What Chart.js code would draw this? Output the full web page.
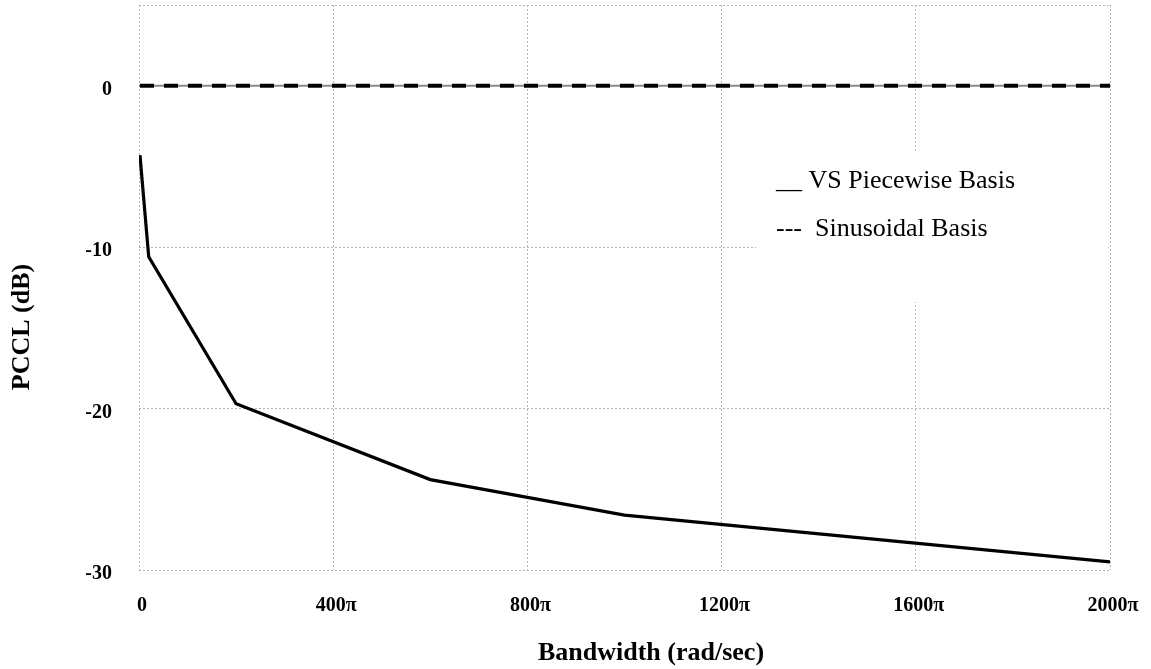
<!DOCTYPE html>
<html>
<head>
<meta charset="utf-8">
<script src="https://cdn.jsdelivr.net/npm/chart.js@4/dist/chart.umd.min.js"></script>
<style>
  html, body { margin: 0; padding: 0; background: #ffffff; }
  canvas { display: block; }
</style>
</head>
<body>
<canvas id="pccl" width="1151" height="669"></canvas>
<script>
// Bandwidth values, in multiples of π rad/sec
const bandwidth = [2, 20, 200, 600, 1000, 2000];
// PCCL (dB) for each basis
const vsPiecewise = [-4.3, -10.6, -19.7, -24.4, -26.6, -29.5];
const sinusoidal = [0, 0, 0, 0, 0, 0];
// Axis ticks
const xTicks = [0, 400, 800, 1200, 1600, 2000];
const yTicks = [-30, -20, -10, 0];
// Texts
const legendLabels = ['__ VS Piecewise Basis', '---  Sinusoidal Basis'];
const xTitle = 'Bandwidth (rad/sec)';
const yTitle = 'PCCL (dB)';

const SERIF = "'Liberation Serif', 'Times New Roman', Times, serif";
const GRID = '#b4b4b4';

const toPoints = (xs, ys) => xs.map((x, i) => ({ x: x, y: ys[i] }));

// Solid grey zero line, white legend panel and axis titles
const decorations = {
  id: 'decorations',
  beforeDatasetsDraw(chart) {
    const { ctx, chartArea, scales } = chart;
    const y0 = scales.y.getPixelForValue(0);
    ctx.save();
    ctx.strokeStyle = '#8a8a8a';
    ctx.lineWidth = 2;
    ctx.beginPath();
    ctx.moveTo(chartArea.left, y0);
    ctx.lineTo(chartArea.right, y0);
    ctx.stroke();

    // legend panel
    ctx.fillStyle = '#ffffff';
    ctx.fillRect(756, 152, chartArea.right - 758, 150);
    ctx.fillStyle = '#000000';
    ctx.font = '26px ' + SERIF;
    ctx.textAlign = 'left';
    ctx.textBaseline = 'alphabetic';
    ctx.fillText(legendLabels[0], 776, 188);
    ctx.fillText(legendLabels[1], 776, 236);
    ctx.restore();
  },
  afterDraw(chart) {
    const { ctx } = chart;
    ctx.save();
    ctx.fillStyle = '#000000';
    ctx.font = 'bold 26px ' + SERIF;
    ctx.textAlign = 'center';
    ctx.textBaseline = 'middle';
    ctx.fillText(xTitle, 651, 653);
    ctx.translate(22, 327);
    ctx.rotate(-Math.PI / 2);
    ctx.fillText(yTitle, 0, 0);
    ctx.restore();
  }
};

new Chart(document.getElementById('pccl'), {
  type: 'line',
  data: {
    datasets: [
      {
        label: 'VS Piecewise Basis',
        data: toPoints(bandwidth, vsPiecewise),
        borderColor: '#000000',
        borderWidth: 3.2,
        pointRadius: 0,
        tension: 0,
        fill: false
      },
      {
        label: 'Sinusoidal Basis',
        data: toPoints(bandwidth, sinusoidal),
        borderColor: '#000000',
        borderWidth: 4,
        borderDash: [14, 10],
        pointRadius: 0,
        tension: 0,
        fill: false
      }
    ]
  },
  options: {
    responsive: false,
    animation: false,
    devicePixelRatio: 1,
    layout: { padding: { left: 0, top: 5, right: 41, bottom: 0 } },
    plugins: {
      legend: { display: false },
      tooltip: { enabled: false },
      title: { display: false }
    },
    scales: {
      x: {
        type: 'linear',
        min: 0,
        max: 2000,
        afterBuildTicks(scale) { scale.ticks = xTicks.map(v => ({ value: v })); },
        afterFit(scale) {
          scale.height = 99;
          scale.paddingLeft = 0;
          scale.paddingRight = 0;
        },
        grid: { color: GRID, lineWidth: 1, drawTicks: false },
        border: { display: false, dash: [2, 2] },
        ticks: {
          autoSkip: false,
          maxRotation: 0,
          padding: 24,
          labelOffset: 3,
          color: '#000000',
          font: { family: SERIF, size: 20, weight: 'bold' },
          callback: v => (v === 0 ? '0' : v + 'π')
        }
      },
      y: {
        type: 'linear',
        min: -30,
        max: 5,
        afterBuildTicks(scale) { scale.ticks = yTicks.concat([5]).map(v => ({ value: v })); },
        afterFit(scale) {
          scale.width = 139;
          scale.paddingTop = 0;
          scale.paddingBottom = 0;
        },
        grid: { color: GRID, lineWidth: 1, drawTicks: false },
        border: { display: false, dash: [2, 2] },
        ticks: {
          autoSkip: false,
          padding: 27,
          labelOffset: 4,
          color: '#000000',
          font: { family: SERIF, size: 20, weight: 'bold' },
          callback: v => (yTicks.includes(v) ? String(v) : '')
        }
      }
    }
  },
  plugins: [decorations]
});
</script>
</body>
</html>
